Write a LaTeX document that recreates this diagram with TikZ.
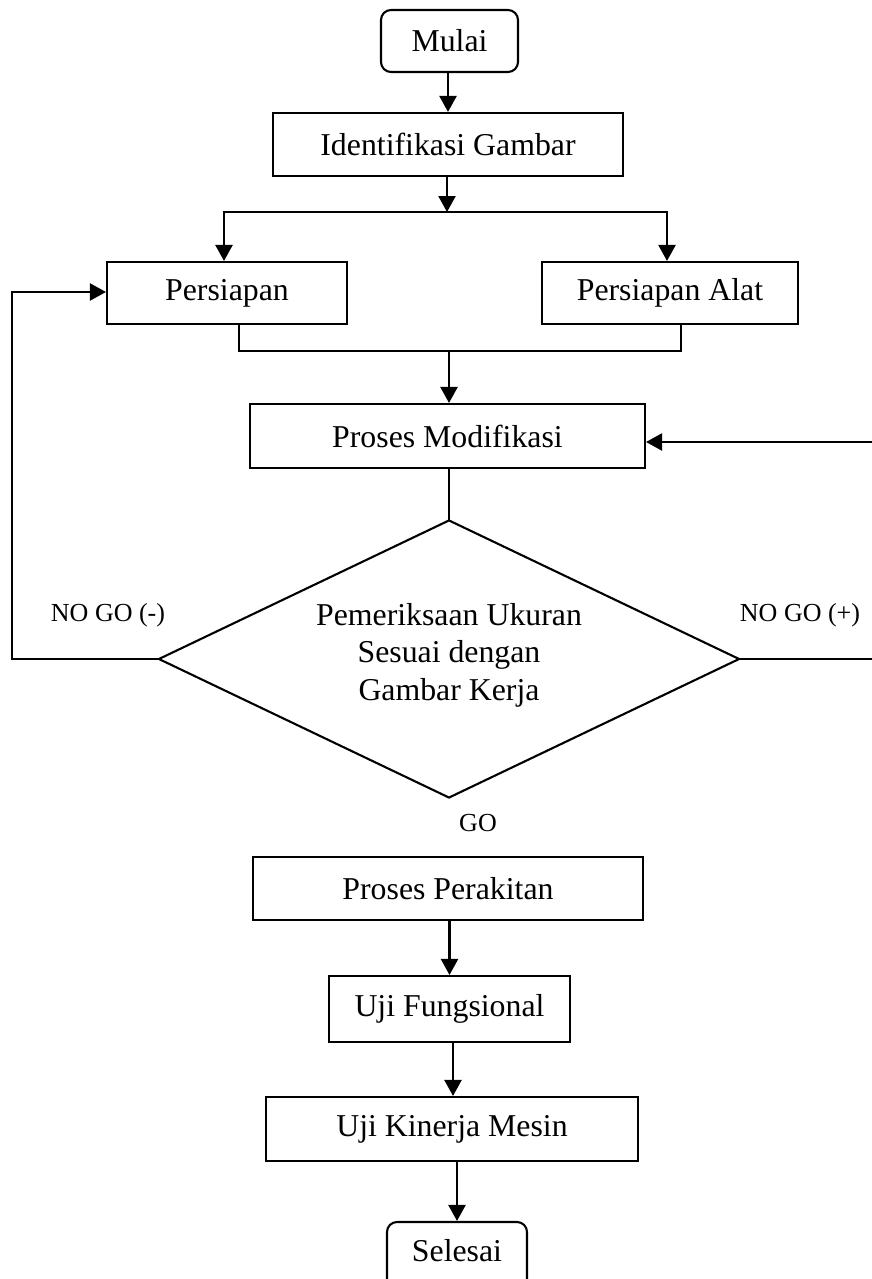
\documentclass[tikz,border=0pt]{standalone}
\usepackage{fontspec}
\setmainfont{Liberation Serif}
\usetikzlibrary{arrows.meta,shapes.geometric,calc}
\begin{document}
\begin{tikzpicture}[x=1pt,y=-1pt,
  box/.style={draw, rectangle, inner sep=0pt, line width=2.1pt,
    font=\fontsize{31.8}{38}\selectfont},
  term/.style={box, rounded corners=10pt},
  link/.style={line width=2.3pt, line cap=rect},
  flow/.style={link, -{Triangle[length=16pt,width=17pt]}},
  tag/.style={inner sep=0pt, font=\fontsize{26}{30}\selectfont}]
\clip (0,0) rectangle (872,1279);
\fill[white] (0,0) rectangle (872,1279);

% process steps
\node[term, minimum width=137pt, minimum height=62pt] (mulai) at (449.5,41) {Mulai};
\node[box, minimum width=350pt, minimum height=63pt] (ident) at (448,144.5) {Identifikasi Gambar};
\node[box, minimum width=240pt, minimum height=62pt] (persiapan) at (227,293) {Persiapan};
\node[box, minimum width=256pt, minimum height=62pt] (alat) at (670,293) {Persiapan Alat};
\node[box, minimum width=395pt, minimum height=64pt] (modif) at (447.5,436) {Proses Modifikasi};
\node[draw, diamond, line width=2.1pt, inner sep=0pt, minimum width=581pt, minimum height=278pt] (cek) at (449,659) {};
\node[align=center, inner sep=0pt, font=\fontsize{31.8}{37.5}\selectfont] (cektext) at (449,655)
  {Pemeriksaan Ukuran\\Sesuai dengan\\Gambar Kerja};
\node[box, minimum width=390pt, minimum height=63pt] (perakitan) at (448,888.5) {Proses Perakitan};
\node[box, minimum width=241pt, minimum height=66pt] (fungsional) at (449.5,1009) {Uji Fungsional};
\node[box, minimum width=372pt, minimum height=64pt] (kinerja) at (452,1129) {Uji Kinerja Mesin};
\node[term, minimum width=140pt, minimum height=70pt] (selesai) at (457,1257) {};
\node[inner sep=0pt, font=\fontsize{31.8}{38}\selectfont] (selesaitext) at (457,1251) {Selesai};

% decision labels
\node[tag] (nogomin) at (108,615) {NO GO (-)};
\node[tag] (nogoplus) at (800,615) {NO GO (+)};
\node[tag] (go) at (478,823) {GO};

% helper points of the branch and merge lines
\coordinate (a1) at (448,0);
\coordinate (br) at (447,212);
\coordinate (brL) at (224,212);
\coordinate (brR) at (667,212);
\coordinate (mgL) at (239,351);
\coordinate (mgR) at (681,351);
\coordinate (mg) at (449,351);
\coordinate (lx) at (12,0);
\coordinate (rx) at (890,0);
\coordinate (a2) at (453,0);

% connectors
\draw[flow] (mulai.south -| a1) -- (a1 |- ident.north);
\draw[flow] (ident.south -| br) -- (br);
\draw[link] (brL) -- (brR);
\draw[flow] (brL) -- (brL |- persiapan.north);
\draw[flow] (brR) -- (brR |- alat.north);
\draw[link] (persiapan.south -| mgL) -- (mgL) -- (mgR) -- (alat.south -| mgR);
\draw[flow] (mg) -- (mg |- modif.north);
\draw[link] (cek.north |- modif.south) -- (cek.north);
\draw[flow] (cek.west) -- (cek.west -| lx) -- ($(lx |- persiapan.west)+(0,-1)$) -- ($(persiapan.west)+(0,-1)$);
\draw[flow] (cek.east) -- (cek.east -| rx) -- ($(rx |- modif.east)+(0,6)$) -- ($(modif.east)+(0,6)$);
\draw[flow] (fungsional.north |- perakitan.south) -- (fungsional.north);
\draw[flow] (fungsional.south -| a2) -- (a2 |- kinerja.north);
\draw[flow] (selesai.north |- kinerja.south) -- (selesai.north);
\end{tikzpicture}
\end{document}
